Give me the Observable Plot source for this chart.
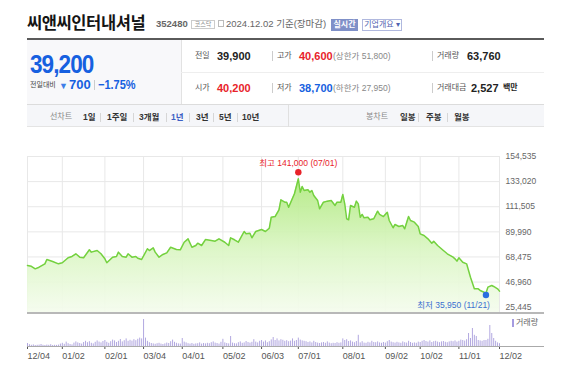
<!DOCTYPE html>
<html><head><meta charset="utf-8">
<script src="https://cdn.jsdelivr.net/npm/d3@7"></script>
<script src="https://cdn.jsdelivr.net/npm/@observablehq/plot@0.6"></script>
<style>
body{margin:0;background:#fff;width:582px;height:377px;overflow:hidden;position:relative;font-family:"Liberation Sans","Noto Sans CJK KR",sans-serif;}
.a{position:absolute;white-space:nowrap;}
.b{position:absolute;box-sizing:border-box;}
svg{position:absolute;left:0;overflow:visible;}
</style></head><body>
<script>
// ---- data ----
const days = [0,2,4,6,9,10,13,16,18,21,23,25,27,29,32,33,36,38,40,41,44,46,47,49,51,52,54,56,57,59,62,63,65,66,68,70,72,74,77,79,81,83,85,87,88,90,92,95,97,99,102,104,105,107,109,112,113,115,116,118,121,123,125,126,128,130,131,133,134,135,138,140,141,142,143,145,146,147,148,150,151,153,155,157,159,160,162,163,164,165,166,167,169,170,171,172,173,174,176,177,179,181,182,184,186,187,189,190,192,194,195,197,198,200,202,203,205,207,209,210,212,215,217,220,221,222,223,225,227,229,231,233,234,236,237,238,240,241,243,244];
const closes = [61200,60500,58300,59700,62600,66300,64600,62600,63500,67800,68900,71200,68300,67800,74600,72600,74000,71200,66900,63500,68300,68900,72600,68900,68300,71200,68300,68900,67400,66300,75500,74000,76300,72600,68300,70600,72000,76800,74900,74600,81100,84000,76800,78300,80300,78300,83400,82600,82000,84000,81100,78300,84900,83200,81100,90300,88300,88800,84900,90300,92000,90300,93100,102500,103100,108900,117400,115400,115400,111100,122600,135400,124000,128800,125400,126000,124000,125400,121100,116800,109700,115400,116300,116800,112600,115400,115400,122000,114000,101200,100300,112600,111100,116300,114000,102500,104900,102000,102500,100300,101200,107700,104900,103100,106800,99700,93500,96300,94600,95400,92600,103100,99700,98300,94600,88300,86900,84000,80300,82000,78300,74000,71200,68300,66900,64900,67800,64000,62600,51100,41200,41200,39800,38300,37400,42600,44000,43200,41200,39200];
const volumes = [
150,90,60,80,50,60,70,100,60,50,70,60,90,50,60,55,70,120,160,110,
220,140,100,80,170,230,180,150,120,200,260,190,240,160,130,210,280,220,180,250,
300,210,160,240,320,280,200,260,350,230,290,380,260,310,270,340,290,360,420,380,
1350,420,260,190,150,130,110,140,160,120,100,130,170,150,240,320,210,160,130,120,
400,220,180,140,120,150,110,130,140,180,120,150,130,160,140,190,230,170,150,120,
210,360,180,150,130,500,170,140,130,190,230,160,180,250,200,170,210,340,220,180,
260,300,220,280,190,240,330,450,300,380,280,340,310,260,290,240,270,380,260,300,
420,320,280,260,240,200,230,180,260,200,170,150,180,200,160,230,170,140,160,150,
190,160,180,380,300,340,250,280,220,190,250,560,180,240,170,160,210,180,260,200,
190,230,180,160,200,170,240,300,220,190,170,210,180,160,230,190,170,260,200,160,
180,160,220,200,260,300,250,220,280,200,240,260,220,190,230,250,210,190,230,260,
240,280,220,260,320,300,270,340,650,400,900,560,500,300,280,260,300,300,360,1050,
650,400,260,180,140];
const tickDays = [0,18,40,60,80,101,121,140,163,185,203,223,244];
const tickLabels = ["12/04","01/02","02/01","03/04","04/01","05/02","06/03","07/01","08/01","09/02","10/02","11/01","12/02"];
const yTicks = [25445,46960,68475,89990,111505,133020,154535];
const highPoint = [{d:140, v:141000, label:"최고 141,000 (07/01)"}];
const lowPoint = [{d:237, v:35950, label:"최저 35,950 (11/21)"}];

const priceData = days.map((d,i)=>({d, c:closes[i]}));
const volData = volumes.map((v,i)=>({d:i, v}));
const yMin = 20050;
const FONT = '"Liberation Sans","Noto Sans CJK KR",sans-serif';

// ---- helpers for page text ----
function T(x, yc, txt, css, lh){ lh = lh||20; const s=document.createElement("div"); s.className="a";
  s.style.cssText = `left:${x}px;top:${yc-lh/2}px;line-height:${lh}px;height:${lh}px;` + (css||"");
  s.textContent = txt; document.body.appendChild(s); return s; }
function B(x,y,w,h,css,txt){ const s=document.createElement("div"); s.className="b";
  s.style.cssText = `left:${x}px;top:${y}px;width:${w}px;height:${h}px;` + (css||"");
  if(txt) s.textContent = txt; document.body.appendChild(s); return s; }

// header
T(27,23,"씨앤씨인터내셔널","font-size:16.5px;font-weight:bold;color:#151515;letter-spacing:-0.4px");
T(156,24,"352480","font-size:9.5px;font-weight:bold;color:#666");
B(191,20,24,9,"border:1px solid #ccc;font-size:6px;line-height:7px;text-align:center;color:#888","코스닥");
B(218,20,6,7,"border:1px solid #bbb;");
T(226,24,"2024.12.02 기준(장마감)","font-size:9.5px;color:#666");
B(331,19,27,12,"background:#7f90c8;color:#fff;font-size:8px;line-height:12px;text-align:center;font-weight:bold","실시간");
B(362,19,40,12,"border:1px solid #b0b8de;color:#5263b0;font-size:8px;line-height:10px;text-align:center","기업개요 ▾");
B(27,38,517,2,"background:#5a5a5a");

// price block
B(27,40,154,64,"background:#f8f8fa");
B(181,40,1,64,"background:#e2e2e2");
B(181,72,363,1,"background:#eee");
B(27,104,517,1,"background:#dcdcdc");
T(30,64,"39,200","font-size:25px;font-weight:bold;color:#1660e0;letter-spacing:-1px;transform:scaleX(0.9);transform-origin:left",30);
T(30,85,"전일대비","font-size:7px;color:#444");
const chg = T(59,85,"","font-size:13px;font-weight:bold;color:#1660e0");
const tri = document.createElement("span"); tri.textContent="▼"; tri.style.cssText="font-size:9px;color:#3f7ee8;margin-right:1px";
chg.appendChild(tri); chg.appendChild(document.createTextNode("700"));
B(94,80,1,10,"background:#ccc");
T(98,85,"−1.75%","font-size:12.5px;font-weight:bold;color:#1660e0;transform:scaleX(0.88);transform-origin:left");

const lab="font-size:8px;color:#555", num="font-size:11px;font-weight:bold;color:#222", sub="font-size:8.5px;color:#888";
T(195,56,"전일",lab); T(217,56,"39,900",num); B(272,51,1,10,"background:#ccc");
T(277,56,"고가",lab); T(299,56,"40,600",num+";color:#e8232a"); T(333,56,"(상한가 51,800)",sub);
B(432,51,1,10,"background:#ccc"); T(437,56,"거래량",lab); T(467,56,"63,760",num);
T(195,88,"시가",lab); T(217,88,"40,200",num+";color:#e8232a"); B(272,83,1,10,"background:#ccc");
T(277,88,"저가",lab); T(299,88,"38,700",num+";color:#1660e0"); T(333,88,"(하한가 27,950)",sub);
B(432,83,1,10,"background:#ccc"); T(437,88,"거래대금",lab); T(471,88,"2,527",num); T(503,88,"백만","font-size:8px;font-weight:bold;color:#222");

// tabs
B(27,105,517,22,"background:#f5f6f9;border-bottom:1px solid #e4e4e4");
B(288,105,1,22,"background:#e0e0e0");
const tab="font-size:8.5px;font-weight:bold;color:#333";
T(50,117,"선차트","font-size:8px;color:#888");
T(83,117,"1일",tab); T(107,117,"1주일",tab); T(139,117,"3개월",tab); T(171,117,"1년",tab+";color:#3d5fc4");
T(196,117,"3년",tab); T(219,117,"5년",tab); T(242,117,"10년",tab);
[100,133,166,189,213,237].forEach(x=>B(x,113,1,9,"background:#d6d6d6"));
T(366,117,"봉차트","font-size:8px;color:#888");
T(400,117,"일봉",tab); B(418,113,1,9,"background:#d6d6d6"); T(426,117,"주봉",tab); B(447,113,1,9,"background:#d6d6d6"); T(454,117,"월봉",tab);

// ---- price chart ----
const price = Plot.plot({
  width:582, height:175, marginTop:16, marginBottom:2, marginLeft:27, marginRight:83,
  style:{fontSize:"8.5px", fontFamily:FONT, color:"#666", background:"transparent", overflow:"visible"},
  x:{domain:[0,244], axis:null},
  y:{domain:[yMin,154535], axis:"right", ticks:yTicks, tickFormat:d3.format(","), tickSize:0, tickPadding:6, label:null},
  marks:[
    Plot.ruleY(yTicks, {stroke:"#e8e8e8"}),
    Plot.ruleX(tickDays, {stroke:"#e8e8e8"}),
    Plot.areaY(priceData, {x:"d", y1:yMin, y2:"c", fill:"url(#pg)", fillOpacity:0.92}),
    Plot.lineY(priceData, {x:"d", y:"c", stroke:"#74d13f", strokeWidth:1.5}),
    Plot.dot(highPoint, {x:"d", y:"v", r:3.2, fill:"#e8232a"}),
    Plot.text(highPoint, {x:"d", y:"v", text:"label", dy:-9, fill:"#e8232a", fontSize:8.5}),
    Plot.dot(lowPoint, {x:"d", y:"v", r:3.2, fill:"#2a6fe0"}),
    Plot.text(lowPoint, {x:"d", y:"v", text:"label", dx:4, dy:10, textAnchor:"end", fill:"#3a70d0", fontSize:8.5})
  ]
});
price.style.top = "140px";
const defs = d3.select(price).insert("defs", ":first-child");
const g = defs.append("linearGradient").attr("id","pg").attr("x1",0).attr("y1",0).attr("x2",0).attr("y2",1);
g.append("stop").attr("offset",0).attr("stop-color","#b0e97f");
g.append("stop").attr("offset",0.55).attr("stop-color","#dcf6c6");
g.append("stop").attr("offset",1).attr("stop-color","#f5fcee");
document.body.appendChild(price);

// ---- volume chart ----
const vol = Plot.plot({
  width:582, height:64, marginTop:0, marginBottom:31, marginLeft:27, marginRight:83,
  style:{fontSize:"9px", fontFamily:FONT, color:"#555", background:"transparent", overflow:"visible"},
  x:{domain:[0,244], ticks:tickDays, tickFormat:d=>tickLabels[tickDays.indexOf(d)], tickSize:3, tickPadding:3, label:null},
  y:{domain:[0,1650], axis:null},
  marks:[
    Plot.ruleX(volData, {x:"d", y1:0, y2:"v", stroke:"#b2a8e0", strokeWidth:1})
  ]
});
vol.style.top = "313px";
d3.select(vol).selectAll("text").attr("text-anchor","start");
document.body.appendChild(vol);

B(27,312,517,2,"background:#b8b8b8");
B(27,346,517,1,"background:#aaa");
B(512,319,2,8,"background:#a59be0");
T(516,323,"거래량","font-size:8px;color:#666");
</script>
</body></html>
